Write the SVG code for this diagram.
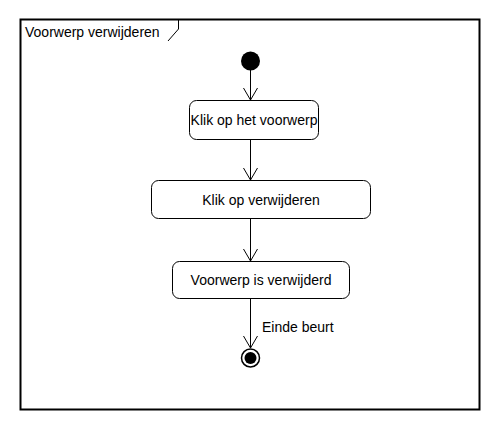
<svg xmlns="http://www.w3.org/2000/svg" width="500" height="430" viewBox="0 0 500 430">
<style>
text{font-family:"Liberation Sans",Arial,sans-serif;font-size:14px;fill:#000}
.box{fill:#fff;stroke:#000;stroke-width:1}
.ln{fill:none;stroke:#000;stroke-width:1}
</style>
<defs>
<marker id="open" markerWidth="16" markerHeight="16" viewBox="-14 -8 16 16" refX="0" refY="0" orient="auto" markerUnits="userSpaceOnUse">
<path d="M-12,-7 L0,0 L-12,7" fill="none" stroke="#000" stroke-width="1"/>
</marker>
</defs>
<rect width="500" height="430" fill="#fff"/>
<g id="frame">
<rect x="20.5" y="19.5" width="459" height="390" fill="none" stroke="#000" stroke-width="2"/>
<path class="ln" d="M178.5,20 V29 L168,41"/>
<text x="25" y="37">Voorwerp verwijderen</text>
</g>
<g id="connectors">
<line class="ln" x1="250.5" y1="70" x2="250.5" y2="100" marker-end="url(#open)"/>
<line class="ln" x1="250.5" y1="139" x2="250.5" y2="180" marker-end="url(#open)"/>
<line class="ln" x1="250.5" y1="219" x2="250.5" y2="261" marker-end="url(#open)"/>
<line class="ln" x1="250.5" y1="299" x2="250.5" y2="348" marker-end="url(#open)"/>
<text x="262" y="332">Einde beurt</text>
</g>
<g id="start">
<circle cx="250.5" cy="61" r="9.5" fill="#000"/>
</g>
<g id="klik-voorwerp">
<rect class="box" x="189.5" y="100.5" width="129" height="39" rx="7"/>
<text x="254" y="125" text-anchor="middle">Klik op het voorwerp</text>
</g>
<g id="klik-verwijderen">
<rect class="box" x="151.5" y="180.5" width="219" height="38" rx="7"/>
<text x="261" y="204.5" text-anchor="middle">Klik op verwijderen</text>
</g>
<g id="verwijderd">
<rect class="box" x="172.5" y="261.5" width="177" height="37" rx="7"/>
<text x="261" y="285" text-anchor="middle">Voorwerp is verwijderd</text>
</g>
<g id="end">
<circle cx="250.5" cy="358" r="9" fill="#fff" stroke="#000" stroke-width="1.5"/>
<circle cx="250.5" cy="358" r="6" fill="#000"/>
</g>
</svg>
